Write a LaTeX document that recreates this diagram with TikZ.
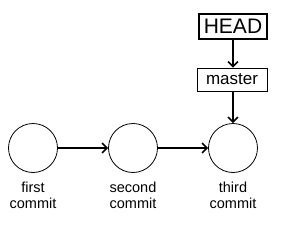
\documentclass[tikz,border=0pt]{standalone}
\usepackage{fontspec}
\setmainfont{Liberation Sans}
\usetikzlibrary{arrows.meta}
\begin{document}
\begin{tikzpicture}[x=1pt,y=-1pt,
  commitnode/.style={circle,draw,line width=0.8pt,minimum size=49pt,inner sep=0pt},
  lbl/.style={font=\fontsize{14.5}{16}\selectfont,align=center},
  conn/.style={line width=1.5pt,-{Straight Barb[length=5pt,width=10pt,line width=1.5pt]}},
  refbox/.style={draw,line width=0.8pt,inner sep=1pt,minimum width=70pt,minimum height=23pt,font=\fontsize{17}{19}\selectfont}]
\useasboundingbox (0,0) rectangle (285,228);
\node[commitnode] (c1) at (33,148) {};
\node[commitnode] (c2) at (133,148) {};
\node[commitnode] (c3) at (233,148) {};
\node[lbl] (l1) at (33,195) {first\\commit};
\node[lbl] (l2) at (133,195) {second\\commit};
\node[lbl] (l3) at (233,195) {third\\commit};
\node[refbox] (master) at (232,79.5) {master};
\node[draw,line width=2pt,inner sep=1pt,minimum width=68pt,minimum height=25pt,font=\fontsize{21}{23}\selectfont] (head) at (233,26) {HEAD};
\draw[conn] (c1) -- (c2);
\draw[conn] (c2) -- (c3);
\draw[conn] (head.south -| c3) -- (master.north -| c3);
\draw[conn] (master.south -| c3) -- (c3);
\end{tikzpicture}
\end{document}
